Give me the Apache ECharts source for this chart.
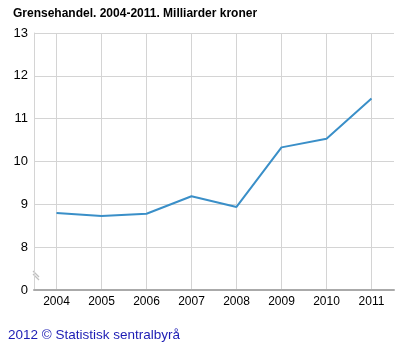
<!DOCTYPE html>
<html>
<head>
<meta charset="utf-8">
<script src="https://cdn.jsdelivr.net/npm/echarts@6/dist/echarts.min.js"></script>
<style>
html,body{margin:0;padding:0;background:#fff;}
#c{width:410px;height:355px;}
</style>
</head>
<body>
<div id="c"></div>
<script>
const titleText = 'Grensehandel. 2004-2011. Milliarder kroner';
const footerText = '2012 \u00A9 Statistisk sentralbyr\u00E5';
const categories = ['2004','2005','2006','2007','2008','2009','2010','2011'];
const values = [8.80, 8.73, 8.78, 9.19, 8.94, 10.33, 10.53, 11.47];
const yTicks = [7, 8, 9, 10, 11, 12, 13];
const yTickLabels = ['0', '8', '9', '10', '11', '12', '13'];

const chart = echarts.init(document.getElementById('c'));
const font = '"Liberation Sans", Arial, sans-serif';
chart.setOption({
  animation: false,
  textStyle: { fontFamily: font },
  title: {
    text: titleText,
    left: 8, top: 3,
    textStyle: { fontSize: 12, fontWeight: 'bold', color: '#000', fontFamily: font }
  },
  grid: { left: 34, right: 16, top: 33, bottom: 65, containLabel: false },
  xAxis: {
    type: 'category',
    data: categories,
    boundaryGap: true,
    axisLine: { show: true, lineStyle: { color: '#aaaaaa', width: 2 } },
    axisTick: { show: false, alignWithLabel: true },
    axisLabel: { color: '#000', fontSize: 12, margin: 6, fontFamily: font },
    splitLine: { show: true, interval: 0, alignWithLabel: true, lineStyle: { color: '#d4d4d4', width: 1 } }
  },
  yAxis: {
    type: 'value',
    min: yTicks[0], max: yTicks[yTicks.length - 1], interval: 1,
    axisLine: { show: true, lineStyle: { color: '#d4d4d4', width: 1 } },
    axisTick: { show: false },
    axisLabel: {
      color: '#000', fontSize: 13, margin: 6, fontFamily: font,
      formatter: function (v) { const i = yTicks.indexOf(v); return i >= 0 ? yTickLabels[i] : ''; }
    },
    splitLine: { show: true, lineStyle: { color: '#d4d4d4', width: 1 } }
  },
  series: [{
    type: 'line',
    data: values,
    symbol: 'none',
    lineStyle: { color: '#3a8fc8', width: 2 },
    itemStyle: { color: '#3a8fc8' }
  }]
});

// axis-break marker on the y axis between 0 and 8
const p = chart.convertToPixel({ gridIndex: 0 }, [0, 7.35]);
const x0 = 34, y0 = p[1];
chart.setOption({
  graphic: [{
    type: 'text',
    left: 8, top: 328,
    style: { text: footerText, fill: '#1c1cb4', font: '13.5px ' + font }
  }, {
    type: 'group',
    children: [
      { type: 'line', shape: { x1: x0 - 1, y1: y0 - 4, x2: x0 + 5, y2: y0 + 2 }, style: { stroke: '#c0c0c0', lineWidth: 1.2 } },
      { type: 'line', shape: { x1: x0 - 1, y1: y0 - 1, x2: x0 + 5, y2: y0 + 5 }, style: { stroke: '#c0c0c0', lineWidth: 1.2 } }
    ]
  }]
});
</script>
</body>
</html>
